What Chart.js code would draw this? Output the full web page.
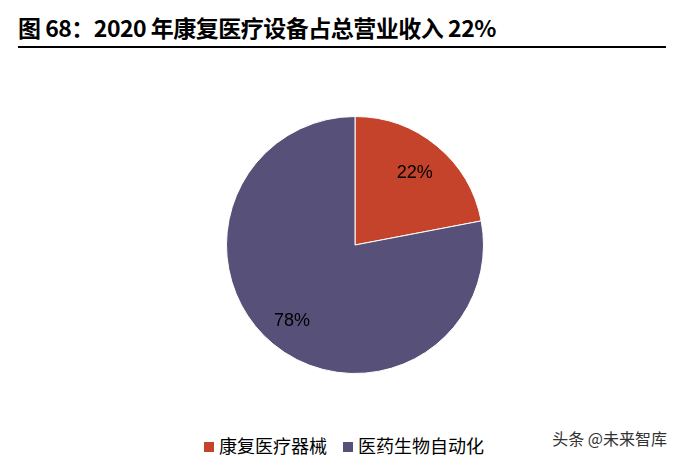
<!DOCTYPE html>
<html><head><meta charset="utf-8">
<script src="https://cdn.jsdelivr.net/npm/chart.js@4/dist/chart.umd.min.js"></script>
<style>
body{margin:0;width:681px;height:460px;background:#fff;position:relative;font-family:"Noto Sans CJK SC","Noto Sans",sans-serif;overflow:hidden}
#title{position:absolute;left:18px;top:10px;font-size:23px;font-weight:bold;color:#000;letter-spacing:-0.5px}
#rule{position:absolute;left:18px;top:46px;width:648px;height:2px;background:#000}
#wrap{position:absolute;left:226px;top:116px;width:258px;height:258px}
#legend{position:absolute;top:432px;left:204px;font-size:18px;color:#000;white-space:nowrap}
#legend span.box{display:inline-block;width:10px;height:10px;margin-right:5px;vertical-align:1px}
#wm{position:absolute;right:14px;top:426px;font-size:16px;color:#333}
</style></head><body>
<div id="title">图 68：2020 年康复医疗设备占总营业收入 22%</div>
<div id="rule"></div>
<div id="wrap"><canvas id="c"></canvas></div>
<div id="legend"></div>
<div id="wm">头条 @未来智库</div>
<script>
const categories = ['康复医疗器械', '医药生物自动化'];
const shares = [22, 78];
const colors = ['#C4432A', '#57517A'];

document.getElementById('legend').innerHTML = categories.map(function (c, i) {
    return '<span class="box" style="background:' + colors[i] + '"></span>' + c;
}).join('<span style="display:inline-block;width:16px"></span>');

const labelPlugin = {
    id: 'inlabels',
    afterDatasetsDraw(chart) {
        const ctx = chart.ctx;
        chart.getDatasetMeta(0).data.forEach(function (arc, i) {
            const a = (arc.startAngle + arc.endAngle) / 2;
            const r = arc.outerRadius * (i === 0 ? 0.73 : 0.77);
            ctx.save();
            ctx.fillStyle = '#000';
            ctx.font = '18px "Liberation Sans", Arial, sans-serif';
            ctx.textAlign = 'center';
            ctx.textBaseline = 'middle';
            ctx.fillText(shares[i] + '%', arc.x + Math.cos(a) * r, arc.y + Math.sin(a) * r);
            ctx.restore();
        });
    }
};

new Chart(document.getElementById('c'), {
    type: 'pie',
    data: {
        labels: categories,
        datasets: [{ data: shares, backgroundColor: colors, borderColor: '#fff', borderWidth: 1 }]
    },
    options: {
        responsive: true,
        maintainAspectRatio: false,
        animation: false,
        plugins: { legend: { display: false }, tooltip: { enabled: false } }
    },
    plugins: [labelPlugin]
});
</script>
</body></html>
